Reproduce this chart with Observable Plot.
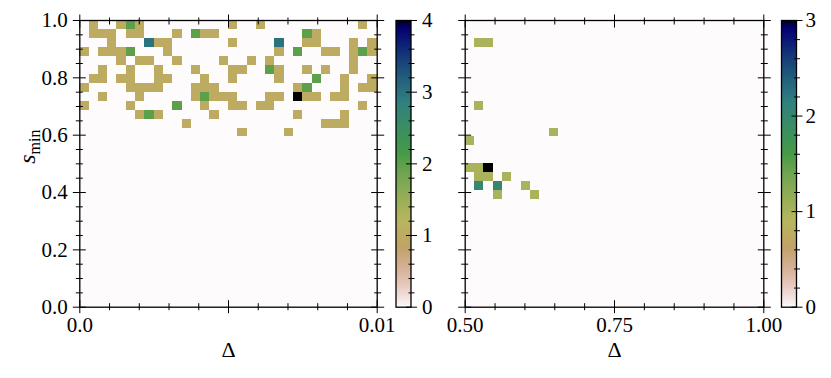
<!DOCTYPE html>
<html><head><meta charset="utf-8">
<script src="https://cdn.jsdelivr.net/npm/d3@7"></script>
<script src="https://cdn.jsdelivr.net/npm/@observablehq/plot@0.6"></script>
<style>
html,body{margin:0;padding:0;background:#fff;}
#chart{position:relative;width:831px;height:378px;overflow:hidden;background:#fff;}
#chart svg{position:absolute;left:0;top:0;}
</style></head><body><div id="chart"></div>
<script>
// ---------------- DATA ----------------
const Z = "00000000000000000000000000000000";
// 2D histogram counts, rows from s_min = 1 (top) down to 0, 32 Δ-bins per row
const leftCounts = [
  "01001210000000001001000000000010",
  "01110110001021100000000021000000",
  "00010003110000001000030011000101",
  "10111200010000000000010200110121",
  "00001011001000010010100000000100",
  "00100100100010001100210010100100",
  "01101100110001001000010002001001",
  "10000111100011100000000120001011",
  "00100010000012111000110411011000",
  "10000100002001001101100000000010",
  "00000012100000100000000100001000",
  "00000000000100000000000000111000",
  "00000000000000000100001000000000",
  Z,Z,Z,Z,Z,Z,Z,Z,Z,Z,Z,Z,Z,Z,Z,Z,Z,Z,Z
];
const rightCounts = [
  Z, Z,
  "01100000000000000000000000000000",
  Z, Z, Z, Z, Z, Z,
  "01000000000000000000000000000000",
  Z, Z,
  "00000000010000000000000000000000",
  "10000000000000000000000000000000",
  Z, Z,
  "11300000000000000000000000000000",
  "01101000000000000000000000000000",
  "02020010000000000000000000000000",
  "00010001000000000000000000000000",
  Z,Z,Z,Z,Z,Z,Z,Z,Z,Z,Z,Z
];
const leftDelta = [0, 0.01];
const rightDelta = [0.5, 1.0];
const sDomain = [0, 1];
const leftMax = 4;
const rightMax = 3;

const leftXMajor = [0, 0.005, 0.01];
const leftXMinor = [0.001, 0.002, 0.003, 0.004, 0.006, 0.007, 0.008, 0.009];
const leftXLabelTicks = [0, 0.01];
const leftXLabels = ["0.0", "0.01"];
const rightXMajor = [0.5, 0.75, 1.0];
const rightXMinor = [0.55, 0.6, 0.65, 0.7, 0.8, 0.85, 0.9, 0.95];
const rightXLabels = ["0.50", "0.75", "1.00"];
const yMajor = [0, 0.2, 0.4, 0.6, 0.8, 1.0];
const yMinor = [0.05,0.1,0.15,0.25,0.3,0.35,0.45,0.5,0.55,0.65,0.7,0.75,0.85,0.9,0.95];
const yLabels = ["0.0", "0.2", "0.4", "0.6", "0.8", "1.0"];
const cbLeftMajor = [0, 1, 2, 3, 4];
const cbRightMajor = [0, 1, 2, 3];
const cbStep = 0.2;

// ---------------- COLORMAP (matplotlib gist_earth, reversed) ----------------
const segR = [[0,0],[0.2824,0.1882],[0.4588,0.2714],[0.5490,0.4719],[0.6980,0.7176],[0.7882,0.7553],[1,0.9922]];
const segG = [[0,0],[0.0275,0],[0.1098,0.1893],[0.1647,0.3035],[0.2078,0.3841],[0.2824,0.5020],[0.5216,0.6397],[0.6980,0.7171],[0.7882,0.6392],[0.7922,0.6413],[0.8000,0.6447],[0.8078,0.6481],[0.8157,0.6549],[0.8667,0.6991],[0.8745,0.7103],[0.8824,0.7216],[0.8902,0.7323],[0.8980,0.7430],[0.9412,0.8275],[0.9569,0.8635],[0.9647,0.8816],[0.9961,0.9733],[1,0.9843]];
const segB = [[0,0],[0.0039,0.1684],[0.0078,0.2212],[0.0275,0.4329],[0.0314,0.4549],[0.2824,0.5004],[0.4667,0.2748],[0.5451,0.3205],[0.7843,0.3961],[0.8941,0.6651],[1,0.9843]];
function segVal(s, u) {
  for (let k = 1; k < s.length; k++) {
    if (u <= s[k][0]) { const [a, va] = s[k-1], [b, vb] = s[k]; return va + (vb - va) * (u - a) / (b - a); }
  }
  return s[s.length-1][1];
}
function gistEarthR(t) {
  const u = 1 - Math.max(0, Math.min(1, t));
  return `rgb(${Math.round(255*segVal(segR,u))},${Math.round(255*segVal(segG,u))},${Math.round(255*segVal(segB,u))})`;
}

// ---------------- HELPERS ----------------
function toCells(rows, xd) {
  const nx = rows[0].length, ny = rows.length;
  const w = (xd[1] - xd[0]) / nx, h = (sDomain[1] - sDomain[0]) / ny;
  const out = [];
  rows.forEach((r, j) => [...r].forEach((c, i) => out.push({
    x1: xd[0] + i * w, x2: xd[0] + (i + 1) * w,
    y1: sDomain[1] - (j + 1) * h, y2: sDomain[1] - j * h, n: +c
  })));
  return out;
}
function ticksOn(dim, anchor, ticks, size) {
  const half = size / 2;
  const o = {anchor, ticks, tickSize: size, fill: "none", label: null, stroke: "black", strokeWidth: 1};
  if (anchor === "bottom") o.dy = -half;
  if (anchor === "top") o.dy = half;
  if (anchor === "left") o.dx = half;
  if (anchor === "right") o.dx = -half;
  return dim === "x" ? Plot.axisX(o) : Plot.axisY(o);
}
const W = 831, H = 378;
const FONT = "'Liberation Serif', 'DejaVu Serif', serif";
const style = {fontFamily: FONT, fontSize: "21px", background: "transparent", overflow: "visible", color: "black"};
const frameTop = 20, frameBottom = 306.7;

function panel({rows, xd, vmax, left, right, xMajor, xMinor, xLabTicks, xLabs, showY}) {
  const marks = [
    Plot.rect(toCells(rows, xd), {x1: "x1", x2: "x2", y1: "y1", y2: "y2", fill: "n", shapeRendering: "crispEdges"}),
  ];
  for (const a of ["bottom", "top"]) {
    marks.push(ticksOn("x", a, xMajor, 13), ticksOn("x", a, xMinor, 7));
  }
  for (const a of ["left", "right"]) {
    marks.push(ticksOn("y", a, yMajor, 13), ticksOn("y", a, yMinor, 7));
  }
  marks.push(Plot.axisX({anchor: "bottom", ticks: xLabTicks, tickSize: 0, tickPadding: 10, label: null,
    tickFormat: d => xLabs[xLabTicks.indexOf(d)], fill: "black"}));
  if (showY) {
    marks.push(Plot.axisY({anchor: "left", ticks: yMajor, tickSize: 0, tickPadding: 12, label: null,
      tickFormat: d => yLabels[yMajor.indexOf(d)], fill: "black"}));
    marks.push(Plot.text(["s_min"], {frameAnchor: "left", rotate: -90, dx: -52, dy: 0, fontSize: 24, fill: "black"}));
  }
  marks.push(Plot.text(["Δ"], {frameAnchor: "bottom", dy: 50, fontSize: 22, fill: "black"}));
  marks.push(Plot.frame({stroke: "black", strokeWidth: 1.3}));
  return Plot.plot({
    width: W, height: H,
    marginLeft: left, marginRight: W - right, marginTop: frameTop, marginBottom: H - frameBottom,
    x: {domain: xd, axis: null}, y: {domain: sDomain, axis: null},
    color: {type: "linear", domain: [0, vmax], interpolate: gistEarthR},
    style, marks
  });
}
function colorbar({vmax, major, left, right, pad}) {
  const minor = d3.range(0, vmax + 1e-9, cbStep).filter(v => Math.abs(v - Math.round(v)) > 1e-6);
  return Plot.plot({
    width: W, height: H,
    marginLeft: left, marginRight: W - right, marginTop: frameTop, marginBottom: H - frameBottom,
    x: {domain: [0, 1], axis: null}, y: {domain: [0, vmax], axis: null},
    color: {type: "linear", domain: [0, vmax], interpolate: gistEarthR},
    style,
    marks: [
      Plot.raster({x1: 0, x2: 1, y1: 0, y2: vmax, width: 1, height: 256, fill: (x, y) => y}),
      ticksOn("y", "right", major, 11),
      ticksOn("y", "right", minor, 6),
      Plot.axisY({anchor: "right", ticks: major, tickSize: 0, tickPadding: pad, label: null, tickFormat: d => String(d), fill: "black"}),
      Plot.frame({stroke: "black", strokeWidth: 1.3})
    ]
  });
}

const chart = document.getElementById("chart");
const pL = panel({rows: leftCounts, xd: leftDelta, vmax: leftMax, left: 79.3, right: 376.7,
  xMajor: leftXMajor, xMinor: leftXMinor, xLabTicks: leftXLabelTicks, xLabs: leftXLabels, showY: true});
const cL = colorbar({vmax: leftMax, major: cbLeftMajor, left: 395.5, right: 410.5, pad: 11});
const pR = panel({rows: rightCounts, xd: rightDelta, vmax: rightMax, left: 464.7, right: 763.3,
  xMajor: rightXMajor, xMinor: rightXMinor, xLabTicks: rightXMajor, xLabs: rightXLabels, showY: false});
const cR = colorbar({vmax: rightMax, major: cbRightMajor, left: 781, right: 796, pad: 9});
for (const s of [pL, cL, pR, cR]) chart.appendChild(s);

d3.select(pL).selectAll("text").filter(function() { return this.textContent === "s_min"; }).each(function() {
  const t = d3.select(this);
  t.text(null);
  t.append("tspan").attr("font-style", "italic").text("s");
  t.append("tspan").attr("font-size", "16px").attr("dy", "5").text("min");
});
</script></body></html>
